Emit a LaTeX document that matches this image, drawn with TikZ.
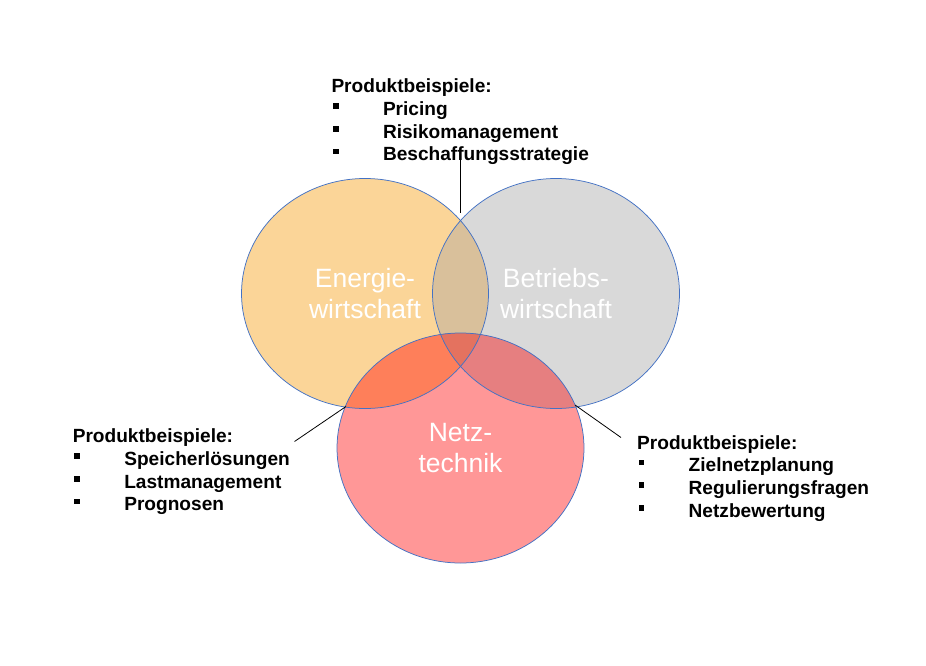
\documentclass[tikz,border=0pt]{standalone}
\usepackage{fontspec}
\setmainfont{Liberation Sans}
\usetikzlibrary{shapes.geometric}
\definecolor{cOrange}{HTML}{FBD598}
\definecolor{cGray}{HTML}{D9D9D9}
\definecolor{cPink}{HTML}{FF9797}
\definecolor{cLR}{HTML}{D9C09B}
\definecolor{cLB}{HTML}{FE7F5A}
\definecolor{cRB}{HTML}{E67F80}
\definecolor{cLRB}{HTML}{E4725F}
\definecolor{cOutline}{HTML}{4472C4}
\newcommand\pbbullet{\makebox[51.5pt][l]{\hspace{1.5pt}\rule[6.5pt]{5.5pt}{5.5pt}}}
\begin{document}
\begin{tikzpicture}[x=1pt,y=-1pt,
  ell/.style={x radius=123.5pt,y radius=115pt},
  venn/.style={ellipse,draw=cOutline,line width=0.75pt,minimum width=247pt,minimum height=230pt,inner sep=0pt,text=white,align=center,font=\fontsize{26.5}{31.5}\selectfont},
  pblabel/.style={anchor=base west,inner sep=0pt,font=\bfseries\fontsize{19.1}{22.7}\selectfont},
  leader/.style={draw=black,line width=0.8pt}]
\useasboundingbox (0,0) rectangle (926,666);
\fill[white] (0,0) rectangle (926,666);
\coordinate (L) at (365,293.5);
\coordinate (R) at (556,293.5);
\coordinate (B) at (460.5,448);
% base fills
\fill[cOrange] (L) ellipse [ell];
\fill[cGray] (R) ellipse [ell];
\fill[cPink] (B) ellipse [ell];
% overlaps
\begin{scope}
  \clip (L) ellipse [ell];
  \fill[cLR] (R) ellipse [ell];
  \fill[cLB] (B) ellipse [ell];
\end{scope}
\begin{scope}
  \clip (R) ellipse [ell];
  \fill[cRB] (B) ellipse [ell];
\end{scope}
\begin{scope}
  \clip (L) ellipse [ell];
  \clip (R) ellipse [ell];
  \fill[cLRB] (B) ellipse [ell];
\end{scope}
% outlines and titles
\node[venn] (E) at (L) {Energie-\\wirtschaft};
\node[venn] (W) at (R) {Betriebs-\\wirtschaft};
\node[venn] (N) at (B) {Netz-\\technik};
% labels
\node[pblabel] (top) at (331.3,92.7) {\begin{tabular}[t]{@{}l@{}}Produktbeispiele:\\ \pbbullet Pricing\\ \pbbullet Risikomanagement\\ \pbbullet Beschaffungsstrategie\end{tabular}};
\node[pblabel] (left) at (72.6,442.7) {\begin{tabular}[t]{@{}l@{}}Produktbeispiele:\\ \pbbullet Speicherlösungen\\ \pbbullet Lastmanagement\\ \pbbullet Prognosen\end{tabular}};
\node[pblabel] (right) at (637,449) {\begin{tabular}[t]{@{}l@{}}Produktbeispiele:\\ \pbbullet Zielnetzplanung\\ \pbbullet Regulierungsfragen\\ \pbbullet Netzbewertung\end{tabular}};
% leaders
\coordinate (topA) at (460.5,160);
\coordinate (topB) at (460.5,213);
\coordinate (leftA) at (294.5,441.5);
\coordinate (leftB) at (346,406.5);
\coordinate (rightA) at (575,405);
\coordinate (rightB) at (621,437.5);
\draw[leader] (topA) -- (topB);
\draw[leader] (leftA) -- (leftB);
\draw[leader] (rightA) -- (rightB);
\end{tikzpicture}
\end{document}
